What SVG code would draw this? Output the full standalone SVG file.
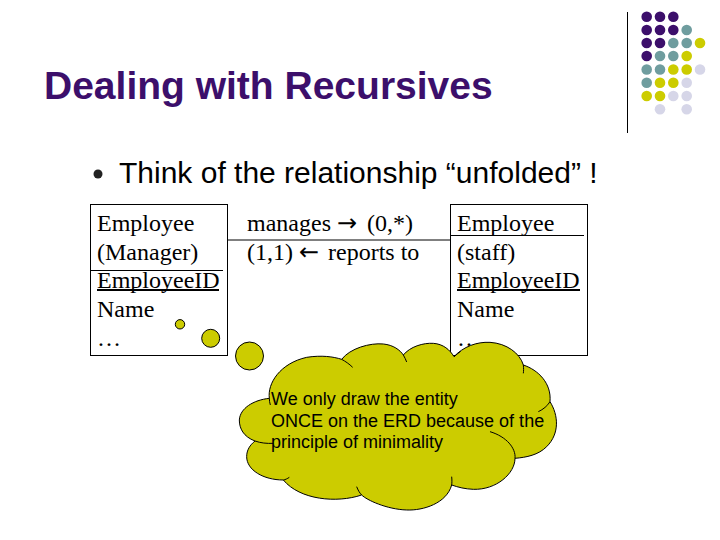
<svg xmlns="http://www.w3.org/2000/svg" width="720" height="540" viewBox="0 0 720 540">
<style>
.p{fill:#3c0f6b}.t{fill:#6f9d9f}.y{fill:#cccc00}.l{fill:#d6d6e8}
.s{font-family:"Liberation Serif","Times New Roman",serif;font-size:24px;fill:#000}
.d{font-family:"DejaVu Sans",sans-serif}
.a{font-family:"Liberation Sans",Arial,sans-serif}
.box{fill:#fff;stroke:#000;stroke-width:1}
.ln{fill:none;stroke:#000;stroke-width:1}
.cl{fill:#cccc00;stroke:#000;stroke-width:1}
</style>
<rect width="720" height="540" fill="#fff"/>
<g id="decor">
<line x1="627.5" y1="12" x2="627.5" y2="133" stroke="#000"/>
<circle class="p" cx="646.7" cy="16.7" r="5.3"/><circle class="p" cx="660" cy="16.7" r="5.3"/><circle class="p" cx="673.3" cy="16.7" r="5.3"/>
<circle class="p" cx="646.7" cy="30" r="5.3"/><circle class="p" cx="660" cy="30" r="5.3"/><circle class="p" cx="673.3" cy="30" r="5.3"/><circle class="t" cx="686.7" cy="30" r="5.3"/>
<circle class="p" cx="646.7" cy="43" r="5.3"/><circle class="p" cx="660" cy="43" r="5.3"/><circle class="t" cx="673.3" cy="43" r="5.3"/><circle class="t" cx="686.7" cy="43" r="5.3"/><circle class="y" cx="700" cy="43" r="5.3"/>
<circle class="p" cx="646.7" cy="56" r="5.3"/><circle class="t" cx="660" cy="56" r="5.3"/><circle class="t" cx="673.3" cy="56" r="5.3"/><circle class="y" cx="686.7" cy="56" r="5.3"/>
<circle class="t" cx="646.7" cy="69.5" r="5.3"/><circle class="t" cx="660" cy="69.5" r="5.3"/><circle class="y" cx="673.3" cy="69.5" r="5.3"/><circle class="y" cx="686.7" cy="69.5" r="5.3"/><circle class="l" cx="700" cy="69.5" r="5.3"/>
<circle class="t" cx="646.7" cy="82.7" r="5.3"/><circle class="y" cx="660" cy="82.7" r="5.3"/><circle class="y" cx="673.3" cy="82.7" r="5.3"/><circle class="l" cx="686.7" cy="82.7" r="5.3"/>
<circle class="y" cx="646.7" cy="96" r="5.3"/><circle class="y" cx="660" cy="96" r="5.3"/><circle class="l" cx="673.3" cy="96" r="5.3"/><circle class="l" cx="686.7" cy="96" r="5.3"/>
<circle class="l" cx="660" cy="109.3" r="5.3"/><circle class="l" cx="686.7" cy="109.3" r="5.3"/>
</g>
<text id="title" class="a" x="44" y="99" font-size="39" font-weight="bold" fill="#3c0f6b">Dealing with Recursives</text>
<circle cx="98" cy="174" r="4.5" fill="#222"/>
<text id="bullet" class="a" x="119" y="183" font-size="30" fill="#000">Think of the relationship “unfolded” !</text>
<g id="connectors">
<line class="ln" x1="227" y1="240" x2="450" y2="240"/>
</g>
<g id="left-entity">
<rect class="box" x="90.5" y="204.5" width="137" height="151"/>
<line class="ln" x1="90" y1="270.5" x2="223" y2="270.5"/>
<text class="s" x="97" y="231">Employee</text>
<text class="s" x="97" y="260">(Manager)</text>
<text class="s" x="97" y="288">EmployeeID</text>
<line x1="97" y1="290" x2="219" y2="290" stroke="#000" stroke-width="2"/>
<text class="s" x="97" y="317">Name</text>
<text class="s" x="97" y="346">…</text>
</g>
<g id="relationship">
<text class="s" x="247" y="231">manages <tspan class="d" x="337">→</tspan> <tspan x="367">(0,*)</tspan></text>
<text class="s" x="247" y="260">(1,1) <tspan class="d" x="299">←</tspan> <tspan x="328">reports to</tspan></text>
</g>
<g id="right-entity">
<rect class="box" x="450.5" y="204.5" width="137" height="151"/>
<line class="ln" x1="450" y1="235.5" x2="584" y2="235.5"/>
<text class="s" x="457" y="231">Employee</text>
<text class="s" x="457" y="260">(staff)</text>
<text class="s" x="457" y="288">EmployeeID</text>
<line x1="457" y1="290" x2="580" y2="290" stroke="#000" stroke-width="2"/>
<text class="s" x="457" y="317">Name</text>
<text class="s" x="457" y="346">…</text>
</g>
<g id="callout">
<circle class="cl" cx="180" cy="324.3" r="4.7"/>
<circle class="cl" cx="210.7" cy="338.3" r="9"/>
<circle class="cl" cx="249.5" cy="356" r="14"/>
<g transform="translate(230 340) scale(.33333)">
<path class="cl" stroke-width="3" style="stroke-width:3" d="M118 175 C112 130 150 70 230 52 C275 45 310 50 335 58 C360 25 420 8 460 12 C490 15 510 30 520 45 C540 20 580 8 610 10 C640 12 660 30 672 50 C700 20 740 5 780 7 C830 10 870 40 880 75 C925 90 965 130 960 185 C985 225 990 280 950 320 C925 345 890 352 855 355 C855 400 800 450 730 448 C705 447 685 442 665 435 C650 490 580 512 530 510 C470 508 410 480 395 465 C320 490 210 480 160 420 C100 420 50 390 50 350 C50 330 60 315 75 303 C40 290 28 265 28 240 C30 205 70 180 118 175 Z"/>
<path class="ln" style="stroke-width:3" d="M335 58 C346 64 358 72 368 82 M520 45 C524 52 527 58 530 66 M672 50 C678 45 684 40 692 34 M880 75 C881 85 881 92 880 100 M960 185 C952 198 940 208 925 215 M780 275 C830 290 858 325 855 355 M665 435 C666 428 666 420 665 410 M395 465 C388 458 384 450 380 440 M160 420 C166 419 172 416 178 412 M75 303 C92 309 110 311 130 310 M118 175 C118 182 119 188 121 195"/>
</g>
<text class="a" font-size="18" fill="#000"><tspan x="271" y="405">We only draw the entity</tspan><tspan x="271" y="427">ONCE on the ERD because of the</tspan><tspan x="271" y="448">principle of minimality</tspan></text>
</g>
</svg>
